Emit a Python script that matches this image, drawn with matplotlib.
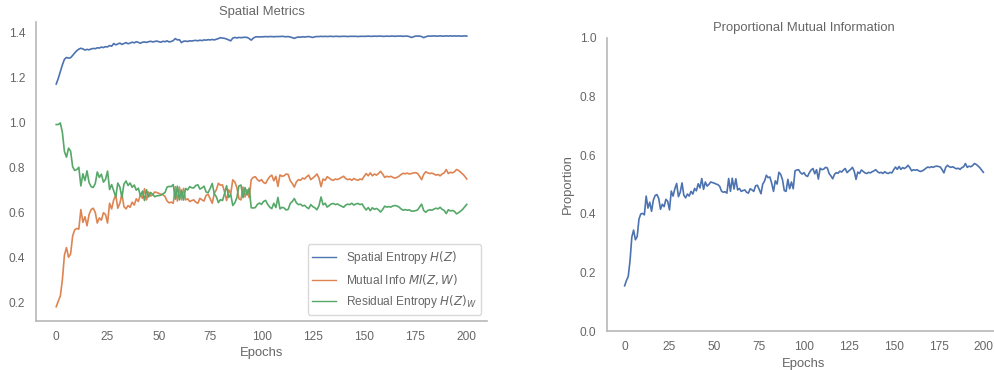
import matplotlib
matplotlib.use("Agg")
import matplotlib.pyplot as plt

plt.rcParams['font.family'] = ['Liberation Sans', 'DejaVu Sans']

epochs = list(range(201))

spatial_entropy = [
    1.170, 1.195, 1.225, 1.255, 1.280, 1.288, 1.285, 1.287, 1.297, 1.308,
    1.318, 1.325, 1.329, 1.326, 1.321, 1.324, 1.322, 1.326, 1.328, 1.327,
    1.331, 1.330, 1.334, 1.332, 1.336, 1.335, 1.341, 1.338, 1.350, 1.344,
    1.348, 1.352, 1.346, 1.350, 1.354, 1.349, 1.352, 1.356, 1.353, 1.358,
    1.355, 1.351, 1.356, 1.357, 1.355, 1.358, 1.360, 1.357, 1.359, 1.361,
    1.358, 1.356, 1.360, 1.358, 1.362, 1.357, 1.359, 1.363, 1.372, 1.366,
    1.367, 1.354, 1.360, 1.361, 1.359, 1.362, 1.361, 1.363, 1.364, 1.362,
    1.365, 1.363, 1.366, 1.365, 1.367, 1.366, 1.368, 1.366, 1.369, 1.372,
    1.376, 1.374, 1.373, 1.370, 1.366, 1.362, 1.374, 1.377, 1.375, 1.377,
    1.376, 1.377, 1.378, 1.377, 1.372, 1.365, 1.374, 1.379, 1.380, 1.379,
    1.380, 1.380, 1.381, 1.380, 1.381, 1.381, 1.380, 1.381, 1.381, 1.381,
    1.382, 1.381, 1.380, 1.381, 1.379, 1.376, 1.373, 1.377, 1.379, 1.378,
    1.380, 1.379, 1.380, 1.381, 1.379, 1.377, 1.380, 1.381, 1.381, 1.382,
    1.381, 1.382, 1.381, 1.382, 1.382, 1.381, 1.382, 1.382, 1.381, 1.382,
    1.382, 1.382, 1.381, 1.382, 1.382, 1.382, 1.382, 1.381, 1.382, 1.382,
    1.382, 1.382, 1.383, 1.382, 1.382, 1.383, 1.382, 1.383, 1.383, 1.382,
    1.382, 1.383, 1.382, 1.383, 1.383, 1.382, 1.383, 1.383, 1.383, 1.382,
    1.383, 1.383, 1.381, 1.377, 1.380, 1.383, 1.383, 1.383, 1.381, 1.376,
    1.380, 1.383, 1.383, 1.383, 1.384, 1.383, 1.383, 1.384, 1.383, 1.383,
    1.384, 1.383, 1.384, 1.383, 1.384, 1.383, 1.384, 1.383, 1.383, 1.384,
    1.383,
]

mutual_info = [
    0.180, 0.205, 0.228, 0.300, 0.410, 0.443, 0.400, 0.415, 0.495, 0.522,
    0.528, 0.525, 0.612, 0.555, 0.580, 0.540, 0.590, 0.612, 0.618, 0.600,
    0.552, 0.575, 0.565, 0.598, 0.590, 0.552, 0.640, 0.615, 0.655, 0.676,
    0.618, 0.640, 0.680, 0.625, 0.615, 0.630, 0.622, 0.645, 0.632, 0.660,
    0.648, 0.678, 0.662, 0.705, 0.655, 0.690, 0.672, 0.678, 0.690, 0.688,
    0.684, 0.680, 0.678, 0.670, 0.650, 0.642, 0.645, 0.640, 0.714, 0.650,
    0.712, 0.655, 0.706, 0.655, 0.660, 0.648, 0.652, 0.655, 0.645, 0.640,
    0.662, 0.655, 0.650, 0.675, 0.680, 0.660, 0.640, 0.684, 0.700, 0.729,
    0.720, 0.722, 0.690, 0.652, 0.700, 0.682, 0.744, 0.735, 0.710, 0.660,
    0.655, 0.712, 0.668, 0.700, 0.665, 0.745, 0.755, 0.758, 0.745, 0.738,
    0.745, 0.732, 0.728, 0.745, 0.758, 0.765, 0.740, 0.760, 0.715, 0.766,
    0.760, 0.762, 0.770, 0.768, 0.740, 0.728, 0.712, 0.735, 0.745, 0.742,
    0.752, 0.748, 0.758, 0.765, 0.745, 0.752, 0.760, 0.770, 0.752, 0.714,
    0.748, 0.742, 0.758, 0.752, 0.745, 0.742, 0.748, 0.745, 0.750, 0.755,
    0.760, 0.750, 0.745, 0.748, 0.742, 0.750, 0.745, 0.742, 0.748, 0.745,
    0.760, 0.772, 0.762, 0.775, 0.762, 0.770, 0.765, 0.772, 0.782, 0.770,
    0.755, 0.760, 0.757, 0.760, 0.755, 0.752, 0.755, 0.760, 0.768, 0.773,
    0.771, 0.774, 0.770, 0.772, 0.775, 0.776, 0.773, 0.760, 0.745, 0.768,
    0.780, 0.775, 0.772, 0.774, 0.770, 0.765, 0.768, 0.762, 0.770, 0.775,
    0.790, 0.772, 0.778, 0.775, 0.780, 0.790, 0.786, 0.778, 0.770, 0.760,
    0.748,
]

residual_entropy = [
    0.990, 0.990, 0.997, 0.955, 0.870, 0.845, 0.885, 0.872, 0.802, 0.786,
    0.790, 0.800, 0.717, 0.771, 0.741, 0.784, 0.732, 0.714, 0.710, 0.727,
    0.779, 0.755, 0.769, 0.734, 0.746, 0.783, 0.701, 0.723, 0.695, 0.668,
    0.730, 0.712, 0.666, 0.725, 0.739, 0.719, 0.730, 0.711, 0.721, 0.698,
    0.707, 0.673, 0.694, 0.652, 0.700, 0.668, 0.688, 0.679, 0.669, 0.673,
    0.674, 0.676, 0.682, 0.688, 0.712, 0.715, 0.714, 0.723, 0.658, 0.716,
    0.655, 0.699, 0.654, 0.706, 0.699, 0.714, 0.709, 0.708, 0.719, 0.722,
    0.703, 0.708, 0.716, 0.690, 0.687, 0.706, 0.728, 0.682, 0.669, 0.643,
    0.656, 0.652, 0.683, 0.718, 0.666, 0.680, 0.630, 0.642, 0.665, 0.717,
    0.721, 0.665, 0.710, 0.677, 0.707, 0.620, 0.619, 0.621, 0.635, 0.641,
    0.635, 0.648, 0.653, 0.635, 0.623, 0.616, 0.640, 0.621, 0.666, 0.615,
    0.622, 0.619, 0.610, 0.613, 0.639, 0.648, 0.661, 0.642, 0.634, 0.636,
    0.628, 0.631, 0.622, 0.616, 0.634, 0.625, 0.620, 0.611, 0.629, 0.668,
    0.633, 0.640, 0.623, 0.630, 0.637, 0.639, 0.634, 0.637, 0.631, 0.627,
    0.622, 0.632, 0.636, 0.634, 0.640, 0.632, 0.637, 0.639, 0.634, 0.637,
    0.622, 0.610, 0.621, 0.607, 0.620, 0.613, 0.617, 0.611, 0.601, 0.612,
    0.627, 0.623, 0.625, 0.623, 0.628, 0.630, 0.628, 0.623, 0.615, 0.609,
    0.612, 0.609, 0.611, 0.605, 0.605, 0.607, 0.610, 0.623, 0.636, 0.608,
    0.600, 0.608, 0.611, 0.609, 0.614, 0.618, 0.615, 0.622, 0.613, 0.608,
    0.594, 0.611, 0.606, 0.608, 0.604, 0.593, 0.598, 0.605, 0.613, 0.624,
    0.635,
]

proportion = [
    0.154, 0.172, 0.186, 0.239, 0.320, 0.344, 0.311, 0.322, 0.382, 0.399,
    0.401, 0.396, 0.460, 0.419, 0.439, 0.408, 0.446, 0.462, 0.465, 0.452,
    0.415, 0.432, 0.424, 0.449, 0.442, 0.413, 0.477, 0.460, 0.485, 0.503,
    0.458, 0.473, 0.505, 0.463, 0.454, 0.467, 0.460, 0.476, 0.467, 0.486,
    0.478, 0.502, 0.488, 0.520, 0.483, 0.508, 0.494, 0.500, 0.508, 0.506,
    0.504, 0.501, 0.499, 0.493, 0.477, 0.473, 0.475, 0.470, 0.520, 0.476,
    0.521, 0.484, 0.519, 0.481, 0.486, 0.476, 0.479, 0.481, 0.473, 0.470,
    0.485, 0.481, 0.476, 0.495, 0.497, 0.483, 0.468, 0.501, 0.511, 0.531,
    0.523, 0.525, 0.503, 0.476, 0.512, 0.501, 0.541, 0.534, 0.516, 0.479,
    0.476, 0.517, 0.485, 0.508, 0.485, 0.546, 0.549, 0.550, 0.540, 0.535,
    0.540, 0.530, 0.527, 0.540, 0.549, 0.554, 0.536, 0.550, 0.518, 0.555,
    0.550, 0.552, 0.558, 0.556, 0.537, 0.529, 0.519, 0.534, 0.540, 0.538,
    0.545, 0.542, 0.549, 0.554, 0.540, 0.546, 0.551, 0.558, 0.545, 0.517,
    0.542, 0.537, 0.549, 0.544, 0.539, 0.537, 0.541, 0.539, 0.543, 0.546,
    0.550, 0.543, 0.539, 0.541, 0.537, 0.543, 0.539, 0.537, 0.541, 0.539,
    0.550, 0.559, 0.551, 0.561, 0.551, 0.557, 0.554, 0.558, 0.565, 0.557,
    0.546, 0.550, 0.548, 0.550, 0.546, 0.544, 0.546, 0.550, 0.555, 0.559,
    0.557, 0.560, 0.558, 0.561, 0.562, 0.561, 0.559, 0.550, 0.539, 0.558,
    0.565, 0.560, 0.558, 0.560, 0.556, 0.553, 0.555, 0.551, 0.557, 0.560,
    0.571, 0.558, 0.562, 0.560, 0.564, 0.571, 0.568, 0.563, 0.557, 0.549,
    0.541,
]

xticks = [0, 25, 50, 75, 100, 125, 150, 175, 200]
left_yticks = [0.2, 0.4, 0.6, 0.8, 1.0, 1.2, 1.4]
right_yticks = [0.0, 0.2, 0.4, 0.6, 0.8, 1.0]

labels = ['Spatial Entropy $H(Z)$', 'Mutual Info $MI(Z,W)$',
          'Residual Entropy $H(Z)_W$']
colors = ['#4C72B0', '#DD8452', '#55A868']

TEXT = '#666666'
SPINE = '#b8b8b8'
TICK_FS = 8.6
LABEL_FS = 9.4

W, H = 994, 370
fig = plt.figure(figsize=(W / 100, H / 100), dpi=100)

def px_axes(x0, y0, x1, y1):
    return fig.add_axes([x0 / W, 1 - y1 / H, (x1 - x0) / W, (y1 - y0) / H])

def style(ax):
    for s in ['top', 'right']:
        ax.spines[s].set_visible(False)
    for s in ['left', 'bottom']:
        ax.spines[s].set_color(SPINE)
        ax.spines[s].set_linewidth(1.2)
    ax.tick_params(axis='both', length=0, pad=7.5, labelsize=TICK_FS,
                   labelcolor=TEXT)
    ax.set_facecolor('white')

ax1 = px_axes(35.7, 21.7, 487.3, 320.7)
for series, lab, c in zip([spatial_entropy, mutual_info, residual_entropy],
                          labels, colors):
    ax1.plot(epochs, series, color=c, lw=1.2, label=lab)
ax1.set_xlim(-10, 210)
ax1.set_ylim(0.118, 1.447)
ax1.set_xticks(xticks)
ax1.set_yticks(left_yticks)
ax1.set_yticklabels([f'{v:.1f}' for v in left_yticks])
ax1.set_xlabel('Epochs', fontsize=LABEL_FS, color=TEXT, labelpad=3)
ax1.set_title('Spatial Metrics', fontsize=LABEL_FS, color=TEXT, pad=5)
style(ax1)
leg = ax1.legend(loc='lower right', fontsize=TICK_FS, frameon=True,
                 fancybox=True, borderaxespad=0.5)
leg.get_frame().set_edgecolor('#d0d0d0')
leg.get_frame().set_linewidth(1.0)
for t in leg.get_texts():
    t.set_color(TEXT)
for h in leg.get_lines():
    h.set_linewidth(1.0)

ax2 = px_axes(606.7, 37.7, 1001.3, 331.0)
ax2.plot(epochs, proportion, color=colors[0], lw=1.2)
ax2.set_xlim(-10, 210)
ax2.set_ylim(0, 1)
ax2.set_xticks(xticks)
ax2.set_yticks(right_yticks)
ax2.set_yticklabels([f'{v:.1f}' for v in right_yticks])
ax2.set_xlabel('Epochs', fontsize=LABEL_FS, color=TEXT, labelpad=3)
ax2.set_ylabel('Proportion', fontsize=LABEL_FS, color=TEXT, labelpad=4)
ax2.set_title('Proportional Mutual Information', fontsize=LABEL_FS,
              color=TEXT, pad=5)
style(ax2)

fig.savefig('out.png', dpi=100, facecolor='white')
